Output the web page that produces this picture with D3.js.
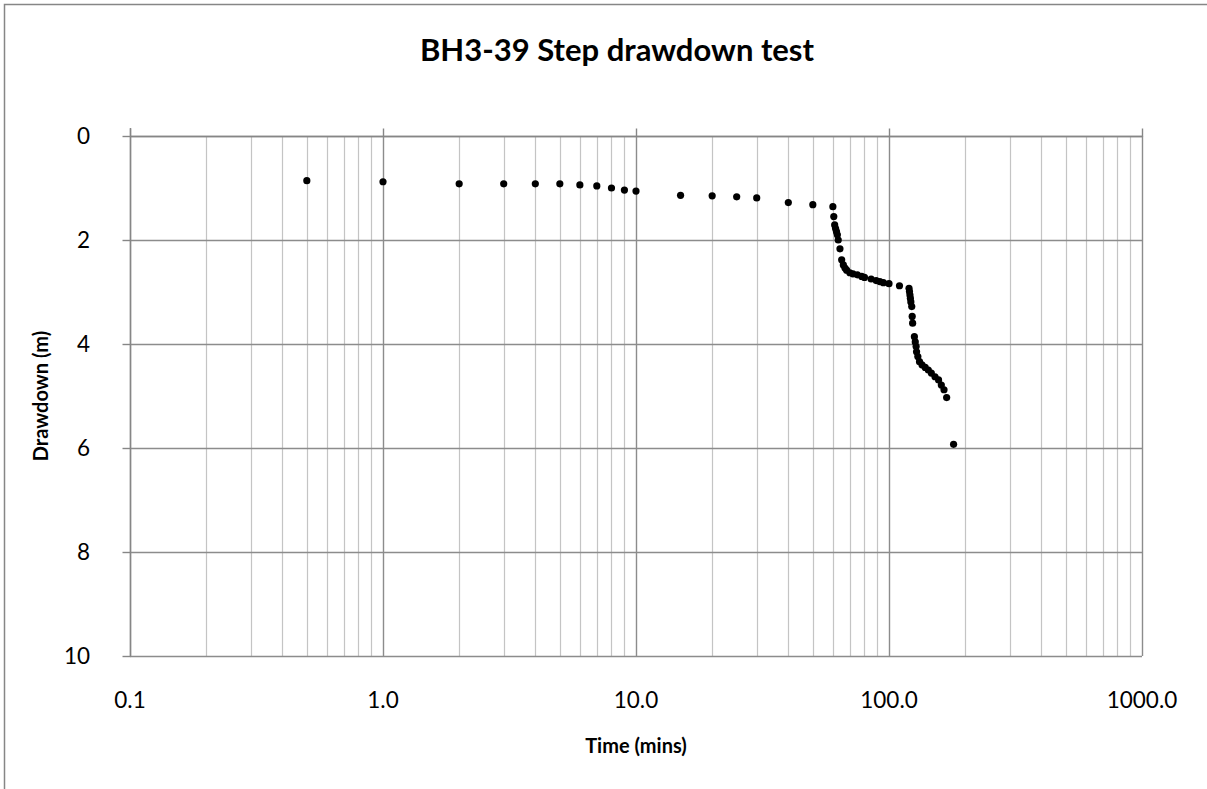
<!DOCTYPE html>
<html>
<head>
<meta charset="utf-8">
<script src="https://cdn.jsdelivr.net/npm/d3@7"></script>
<style>
  html, body { margin: 0; padding: 0; background: #fff; overflow: hidden; }
  svg { display: block; }
  text { font-family: Lato, "Open Sans", sans-serif; fill: #000; }
</style>
</head>
<body>
<svg id="chart" width="1207" height="789"></svg>
<script>
// Elapsed time since pumping started (mins) and measured drawdown (m)
const timeMins = [
  0.5, 1, 2, 3, 4, 5, 6, 7, 8, 9, 10, 15, 20, 25, 30, 40, 50, 60,
  60.5, 61, 61.5, 62, 62.5, 63, 64, 65, 66, 67, 68, 70, 72, 75, 78, 80, 85, 89, 92, 95, 100, 110, 120,
  120.5, 121, 121.5, 122, 123, 123.5, 124, 126, 127, 128, 128.5, 130, 132, 135, 139, 143, 147, 152, 157, 161, 165, 169, 180
];
const drawdownM = [
  0.86, 0.88, 0.92, 0.92, 0.92, 0.92, 0.94, 0.96, 1.00, 1.04, 1.06, 1.14, 1.15, 1.17, 1.19, 1.28, 1.32, 1.36,
  1.55, 1.71, 1.78, 1.84, 1.90, 2.00, 2.17, 2.38, 2.48, 2.54, 2.58, 2.63, 2.65, 2.67, 2.70, 2.72, 2.75, 2.78, 2.80, 2.82, 2.84, 2.88, 2.93,
  2.99, 3.06, 3.12, 3.19, 3.28, 3.47, 3.60, 3.86, 3.96, 4.05, 4.15, 4.24, 4.34, 4.40, 4.45, 4.50, 4.56, 4.63, 4.69, 4.79, 4.88, 5.03, 5.93
];

const xTickValues = [0.1, 1, 10, 100, 1000];
const xTickLabels = ["0.1", "1.0", "10.0", "100.0", "1000.0"];
const yTickValues = [0, 2, 4, 6, 8, 10];

const chartTitle = "BH3-39 Step drawdown test";
const xTitle = "Time (mins)";
const yTitle = "Drawdown (m)";

const svg = d3.select("#chart");
const W = 1207, H = 789;
const plot = { left: 130, right: 1142, top: 136, bottom: 656 };

// chart frame (top and left edges fall inside the canvas)
svg.append("path")
  .attr("d", `M4.5,${H}V4.5H${W}`)
  .attr("fill", "none").attr("stroke", "#868686").attr("stroke-width", 1.5);

const x = d3.scaleLog().domain([0.1, 1000]).range([plot.left, plot.right]);
const y = d3.scaleLinear().domain([0, 10]).range([plot.top, plot.bottom]);

// minor vertical gridlines (2..9 in each decade)
const minorX = [];
for (let dec = 0.1; dec < 1000; dec *= 10) {
  for (let k = 2; k <= 9; k++) minorX.push(+(dec * k).toPrecision(3));
}
const grid = svg.append("g");
grid.selectAll("line.minor")
  .data(minorX).join("line")
  .attr("class", "minor")
  .attr("x1", d => Math.round(x(d)) + 0.5).attr("x2", d => Math.round(x(d)) + 0.5)
  .attr("y1", plot.top).attr("y2", plot.bottom)
  .attr("stroke", "#c4c4c4").attr("stroke-width", 1.2);

// major vertical gridlines
grid.selectAll("line.majorx")
  .data(xTickValues).join("line")
  .attr("class", "majorx")
  .attr("x1", d => Math.round(x(d)) + 0.5).attr("x2", d => Math.round(x(d)) + 0.5)
  .attr("y1", plot.top).attr("y2", plot.bottom)
  .attr("stroke", "#8c8c8c").attr("stroke-width", 1.4);

// horizontal gridlines
grid.selectAll("line.majory")
  .data(yTickValues).join("line")
  .attr("class", "majory")
  .attr("x1", plot.left).attr("x2", plot.right)
  .attr("y1", d => Math.round(y(d)) + 0.5).attr("y2", d => Math.round(y(d)) + 0.5)
  .attr("stroke", "#8c8c8c").attr("stroke-width", 1.4);

// time axis sits at zero drawdown (top), ticks pointing outward
const xAxis = d3.axisTop(x).tickValues(xTickValues).tickSize(8).tickFormat("");
svg.append("g")
  .attr("transform", `translate(0,${plot.top + 0.5})`)
  .call(xAxis)
  .call(g => g.selectAll("line, path").attr("stroke", "#868686").attr("stroke-width", 1.4))
  .call(g => g.select(".domain").attr("d", `M${plot.left},0H${plot.right}`));

// drawdown axis
const yAxis = d3.axisLeft(y).tickValues(yTickValues).tickSize(8).tickFormat("");
svg.append("g")
  .attr("transform", `translate(${plot.left + 0.5},0)`)
  .call(yAxis)
  .call(g => g.selectAll("line, path").attr("stroke", "#868686").attr("stroke-width", 1.4))
  .call(g => g.select(".domain").attr("d", `M0,${plot.top - 8}V${plot.bottom}`));

// tick labels
svg.append("g").selectAll("text")
  .data(xTickValues).join("text")
  .attr("x", d => x(d)).attr("y", 708)
  .attr("text-anchor", "middle")
  .attr("font-size", 22.5)
  .text((d, i) => xTickLabels[i]);

svg.append("g").selectAll("text")
  .data(yTickValues).join("text")
  .attr("x", 90).attr("y", d => y(d) + 8)
  .attr("text-anchor", "end")
  .attr("font-size", 22.5)
  .text(d => d);

// data points
svg.append("g").selectAll("circle")
  .data(timeMins.map((t, i) => [t, drawdownM[i]])).join("circle")
  .attr("cx", d => x(d[0])).attr("cy", d => y(d[1]))
  .attr("r", 3.6).attr("fill", "#000");

// titles
svg.append("text")
  .attr("x", 617).attr("y", 61)
  .attr("text-anchor", "middle")
  .attr("font-size", 31).attr("font-weight", "bold")
  .text(chartTitle);

svg.append("text")
  .attr("x", 636).attr("y", 753)
  .attr("text-anchor", "middle")
  .attr("font-size", 20).attr("font-weight", "bold")
  .text(xTitle);

svg.append("text")
  .attr("transform", "translate(48,396) rotate(-90)")
  .attr("text-anchor", "middle")
  .attr("font-size", 20).attr("font-weight", "bold")
  .text(yTitle);
</script>
</body>
</html>
